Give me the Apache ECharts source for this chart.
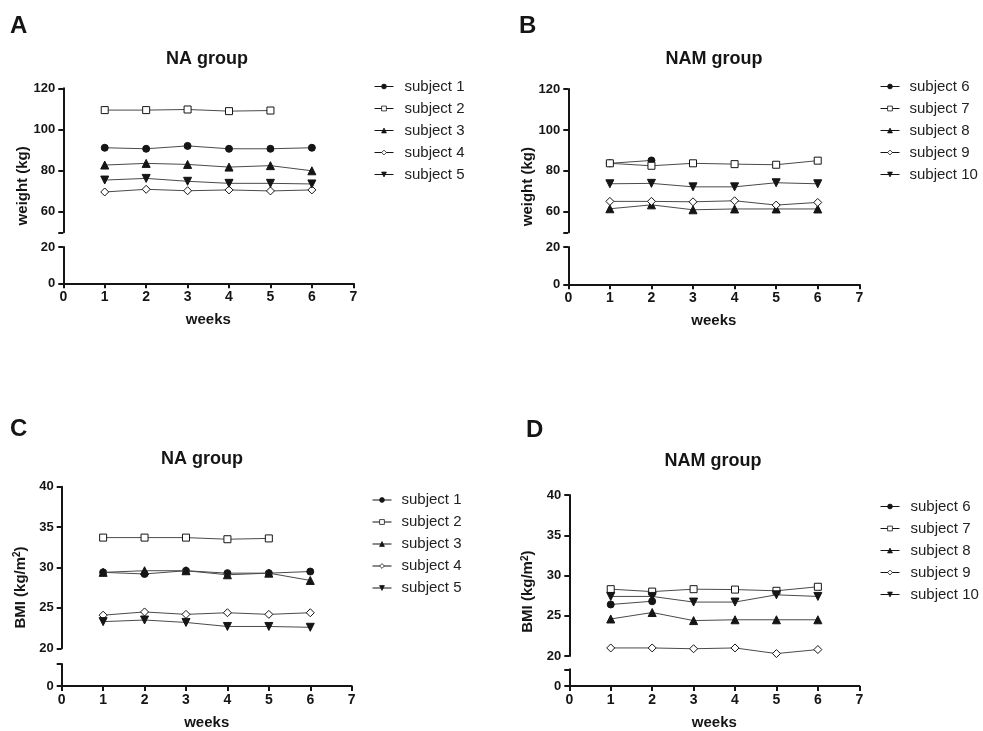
<!DOCTYPE html>
<html>
<head>
<meta charset="utf-8">
<script src="https://cdn.jsdelivr.net/npm/echarts@6/dist/echarts.min.js"></script>
<style>
html,body{margin:0;padding:0;background:#fff;}
#main{width:983px;height:731px;}
</style>
</head>
<body>
<div id="main"></div>
<script>
// ---------- data ----------
const weeks = [1, 2, 3, 4, 5, 6];
const xTicks = [0, 1, 2, 3, 4, 5, 6, 7];

const namesNA = ['subject 1', 'subject 2', 'subject 3', 'subject 4', 'subject 5'];
const namesNAM = ['subject 6', 'subject 7', 'subject 8', 'subject 9', 'subject 10'];

// Panel A: NA group weight (kg)
const weightNA_s1 = [91.1, 90.6, 92.0, 90.6, 90.6, 91.1];
const weightNA_s2 = [109.4, 109.4, 109.7, 108.9, 109.2];
const weightNA_s3 = [82.7, 83.5, 83.0, 81.7, 82.4, 79.9];
const weightNA_s4 = [69.6, 70.9, 70.2, 70.6, 70.1, 70.6];
const weightNA_s5 = [75.4, 76.2, 74.8, 73.8, 73.8, 73.5];

// Panel B: NAM group weight (kg)
const weightNAM_s6 = [83.7, 85.1];
const weightNAM_s7 = [83.7, 82.5, 83.7, 83.3, 83.0, 85.0];
const weightNAM_s8 = [61.5, 63.4, 61.0, 61.4, 61.4, 61.4];
const weightNAM_s9 = [65.1, 65.1, 64.9, 65.4, 63.3, 64.6];
const weightNAM_s10 = [73.7, 73.9, 72.2, 72.2, 74.2, 73.7];

// Panel C: NA group BMI (kg/m2)
const bmiNA_s1 = [29.4, 29.2, 29.6, 29.3, 29.3, 29.5];
const bmiNA_s2 = [33.7, 33.7, 33.7, 33.5, 33.6];
const bmiNA_s3 = [29.4, 29.6, 29.6, 29.1, 29.3, 28.4];
const bmiNA_s4 = [24.1, 24.5, 24.2, 24.4, 24.2, 24.4];
const bmiNA_s5 = [23.3, 23.5, 23.2, 22.7, 22.7, 22.6];

// Panel D: NAM group BMI (kg/m2)
const bmiNAM_s6 = [26.4, 26.8];
const bmiNAM_s7 = [28.3, 28.0, 28.3, 28.25, 28.1, 28.6];
const bmiNAM_s8 = [24.6, 25.4, 24.4, 24.5, 24.5, 24.5];
const bmiNAM_s9 = [21.0, 21.0, 20.9, 21.0, 20.3, 20.8];
const bmiNAM_s10 = [27.4, 27.4, 26.7, 26.7, 27.6, 27.4];

// axis ticks (broken axes)
const weightUpperTicks = [50, 60, 80, 100, 120];
const weightUpperLabels = [60, 80, 100, 120];
const weightLowerTicks = [0, 20];
const bmiUpperTicks = [20, 25, 30, 35, 40];
const bmiLowerTicks = [0, 1];
const bmiLowerLabels = [0];

// ---------- styles / layout ----------
const FONT = "'Liberation Sans', Arial, Helvetica, sans-serif";
const INK = '#151515';
const LINE = '#4a4a4a';
const markerStyles = [
  {symbol: 'circle', size: 7, rotate: 0, fill: INK},
  {symbol: 'rect', size: 7, rotate: 0, fill: '#fff'},
  {symbol: 'triangle', size: 8, rotate: 0, fill: INK},
  {symbol: 'diamond', size: [8, 8], rotate: 0, fill: '#fff'},
  {symbol: 'triangle', size: 8, rotate: 180, fill: INK}
];

const panels = [
  {letter: 'A', letterPos: [10, 14], title: 'NA group', titleX: 207, titleY: 50,
   yName: 'weight (kg)', names: namesNA,
   values: [weightNA_s1, weightNA_s2, weightNA_s3, weightNA_s4, weightNA_s5],
   left: 63.3, width: 290, upTop: 88.3, upH: 144, loTop: 247, loH: 36.3,
   upMin: 50, upMax: 120, upTicks: weightUpperTicks, upLabels: weightUpperLabels,
   loMin: 0, loMax: 20, loTicks: weightLowerTicks, loLabels: weightLowerTicks,
   legendLeft: 374, legendTop: 78, textGap: 6},
  {letter: 'B', letterPos: [519, 14], title: 'NAM group', titleX: 714, titleY: 50,
   yName: 'weight (kg)', names: namesNAM,
   values: [weightNAM_s6, weightNAM_s7, weightNAM_s8, weightNAM_s9, weightNAM_s10],
   left: 568.3, width: 291, upTop: 89, upH: 143.3, loTop: 247, loH: 37.3,
   upMin: 50, upMax: 120, upTicks: weightUpperTicks, upLabels: weightUpperLabels,
   loMin: 0, loMax: 20, loTicks: weightLowerTicks, loLabels: weightLowerTicks,
   legendLeft: 880, legendTop: 78, textGap: 5},
  {letter: 'C', letterPos: [10, 417], title: 'NA group', titleX: 202, titleY: 450,
   yName: 'BMI (kg/m{sup|2})', names: namesNA,
   values: [bmiNA_s1, bmiNA_s2, bmiNA_s3, bmiNA_s4, bmiNA_s5],
   left: 61.7, width: 290, upTop: 486.7, upH: 161.6, loTop: 664, loH: 24.3,
   upMin: 20, upMax: 40, upTicks: bmiUpperTicks, upLabels: bmiUpperTicks,
   loMin: 0, loMax: 1, loTicks: bmiLowerTicks, loLabels: bmiLowerLabels,
   legendLeft: 372, legendTop: 491.5, textGap: 5},
  {letter: 'D', letterPos: [526, 418], title: 'NAM group', titleX: 713, titleY: 452,
   yName: 'BMI (kg/m{sup|2})', names: namesNAM,
   values: [bmiNAM_s6, bmiNAM_s7, bmiNAM_s8, bmiNAM_s9, bmiNAM_s10],
   left: 569.3, width: 290, upTop: 495, upH: 161, loTop: 669.3, loH: 19,
   upMin: 20, upMax: 40, upTicks: bmiUpperTicks, upLabels: bmiUpperTicks,
   loMin: 0, loMax: 1, loTicks: bmiLowerTicks, loLabels: bmiLowerLabels,
   legendLeft: 880, legendTop: 498, textGap: 6}
];

const option = {
  backgroundColor: '#fff',
  animation: false,
  textStyle: {fontFamily: FONT},
  title: [], legend: [], grid: [], xAxis: [], yAxis: [], series: []
};

const yLabelStyle = {fontFamily: FONT, fontWeight: 'bold', fontSize: 13, color: INK};
const xLabelStyle = {fontFamily: FONT, fontWeight: 'bold', fontSize: 14, color: INK};
const axisLineStyle = {lineStyle: {color: INK, width: 2}};
const axisTickStyle = {length: 5, lineStyle: {color: INK, width: 2}};

panels.forEach((p, pi) => {
  option.title.push({
    text: p.letter, left: p.letterPos[0], top: p.letterPos[1], padding: 0,
    textStyle: {fontFamily: FONT, fontWeight: 'bold', fontSize: 24, color: INK}
  });
  option.title.push({
    text: p.title, left: p.titleX, top: p.titleY, textAlign: 'center', padding: 0,
    textStyle: {fontFamily: FONT, fontWeight: 'bold', fontSize: 18, color: INK}
  });

  const gi = option.grid.length;
  option.grid.push({left: p.left, top: p.upTop, width: p.width, height: p.upH, containLabel: false});
  option.grid.push({left: p.left, top: p.loTop, width: p.width, height: p.loH, containLabel: false});
  option.grid.push({left: p.left, top: p.upTop, width: p.width, height: p.loTop + p.loH - p.upTop, containLabel: false});

  option.xAxis.push({type: 'value', gridIndex: gi, min: 0, max: 7, interval: 1, show: false});
  option.xAxis.push({
    type: 'value', gridIndex: gi + 1, min: 0, max: 7, interval: 1,
    name: 'weeks', nameLocation: 'middle', nameGap: 29,
    nameTextStyle: {fontFamily: FONT, fontWeight: 'bold', fontSize: 15, color: INK},
    axisLine: Object.assign({onZero: false}, axisLineStyle),
    axisTick: Object.assign({customValues: xTicks}, axisTickStyle),
    axisLabel: Object.assign({margin: 7, customValues: xTicks}, xLabelStyle),
    splitLine: {show: false}
  });
  option.xAxis.push({type: 'value', gridIndex: gi + 2, min: 0, max: 7, show: false});

  option.yAxis.push({
    type: 'value', gridIndex: gi, min: p.upMin, max: p.upMax,
    axisLine: axisLineStyle,
    axisTick: Object.assign({customValues: p.upTicks}, axisTickStyle),
    axisLabel: Object.assign({margin: 8, customValues: p.upLabels}, yLabelStyle),
    splitLine: {show: false}
  });
  option.yAxis.push({
    type: 'value', gridIndex: gi + 1, min: p.loMin, max: p.loMax,
    axisLine: axisLineStyle,
    axisTick: Object.assign({customValues: p.loTicks}, axisTickStyle),
    axisLabel: Object.assign({margin: 8, customValues: p.loLabels}, yLabelStyle),
    splitLine: {show: false}
  });
  option.yAxis.push({
    type: 'value', gridIndex: gi + 2, min: 0, max: 1,
    name: p.yName, nameLocation: 'middle', nameGap: 33, nameRotate: 90,
    nameTextStyle: {fontFamily: FONT, fontWeight: 'bold', fontSize: 15, color: INK,
      rich: {sup: {fontFamily: FONT, fontWeight: 'bold', fontSize: 10, color: INK, verticalAlign: 'top', padding: [0, 0, 6, 0]}}},
    axisLine: {show: false}, axisTick: {show: false}, axisLabel: {show: false}, splitLine: {show: false}
  });

  p.names.forEach((name, si) => {
    const ms = markerStyles[si];
    const vals = p.values[si];
    option.series.push({
      type: 'line', name: name,
      xAxisIndex: gi, yAxisIndex: gi,
      data: vals.map((v, i) => [weeks[i], v]),
      symbol: ms.symbol, symbolSize: ms.size, symbolRotate: ms.rotate,
      showAllSymbol: true,
      lineStyle: {color: LINE, width: 1},
      itemStyle: {color: ms.fill, borderColor: INK, borderWidth: 1, opacity: 1},
      emphasis: {disabled: true},
      z: 2 + si
    });
  });

  option.legend.push({
    orient: 'vertical', left: p.legendLeft, top: p.legendTop, padding: 0,
    itemWidth: 19, itemHeight: 6, itemGap: 5,
    selectedMode: false,
    data: p.names,
    lineStyle: {width: 1, color: INK},
    itemStyle: {borderWidth: 0.8, borderColor: INK},
    textStyle: {fontFamily: FONT, fontSize: 15, color: '#222', lineHeight: 17, padding: [0, 0, 0, p.textGap]}
  });
});

const chart = echarts.init(document.getElementById('main'));
chart.setOption(option);
</script>
</body>
</html>
